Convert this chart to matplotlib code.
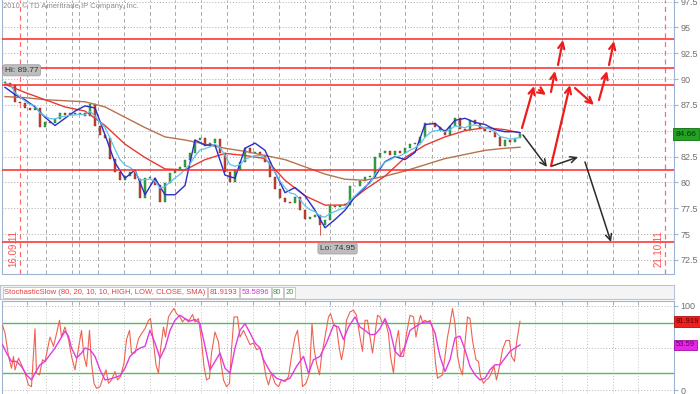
import numpy as np
import pandas as pd
import matplotlib
matplotlib.use("Agg")
import matplotlib.pyplot as plt
import matplotlib.transforms as mtrans
from matplotlib.patches import Rectangle
from matplotlib import font_manager

_names = {f.name for f in font_manager.fontManager.ttflist}
NARROW = "Liberation Sans Narrow" if "Liberation Sans Narrow" in _names else "Liberation Sans"
plt.rcParams["font.family"] = [NARROW, "DejaVu Sans"]

# ---------------- data ----------------
closes = [
    89.6, 89.4, 87.8, 87.7, 87.2, 87.0, 87.2, 85.4, 85.8, 85.7,
    86.1, 86.7, 86.5, 86.7, 86.6, 86.7, 86.4, 87.6, 85.5, 84.6,
    84.3, 82.3, 81.0, 80.2, 80.6, 81.0, 80.3, 78.5, 80.4, 80.4,
    79.7, 78.1, 79.9, 80.9, 81.2, 81.5, 82.2, 82.8, 84.1, 84.3,
    83.5, 83.8, 84.2, 82.8, 81.0, 80.0, 81.2, 82.0, 83.3, 82.8,
    82.9, 82.6, 82.0, 80.5, 79.4, 78.5, 78.1, 78.0, 78.6, 77.3,
    76.5, 76.6, 76.8, 75.9, 76.4, 77.7, 77.6, 77.8, 77.8, 79.6,
    79.6, 80.1, 80.5, 80.5, 82.5, 82.8, 83.0, 82.6, 83.0, 82.8,
    83.3, 83.7, 83.8, 84.4, 85.7, 85.7, 85.4, 85.1, 84.6, 85.5,
    86.2, 85.2, 85.1, 86.0, 85.6, 85.2, 85.0, 84.9, 84.4, 83.5,
    84.1, 83.9, 84.3, 84.66,
]
hi_idx, hi_val = 0, 89.77
lo_idx, lo_val = 63, 74.95

ma_x = list(range(0, 101, 4)) + [103]
ma_mid = [89.5, 88.7, 88.0, 87.3, 86.9, 85.5, 83.7, 82.4, 81.3, 81.2, 82.2, 82.8, 82.6,
          82.3, 80.2, 78.7, 77.8, 77.8, 79.3, 80.6, 82.4, 83.6, 84.4, 85.0, 85.3, 85.1, 84.8]
ma_long = [88.3, 88.2, 88.0, 87.9, 87.8, 87.3, 86.3, 85.3, 84.4, 84.1, 83.7, 83.3, 83.0,
           82.6, 82.2, 81.5, 80.8, 80.3, 80.2, 80.6, 81.1, 81.7, 82.3, 82.7, 83.1, 83.3, 83.4]
blue_x = list(range(0, 103, 2)) + [103]
blue_line = [89.2, 88.5, 88.0, 87.3, 86.3, 85.5, 86.2, 86.9, 87.4, 87.2,
             84.6, 81.9, 80.4, 81.2, 78.8, 80.4, 78.8, 78.8, 79.7, 84.1,
             83.6, 83.6, 80.7, 80.4, 83.3, 83.8, 83.1, 81.0, 79.0, 79.5,
             78.7, 77.3, 75.6, 76.4, 77.3, 78.6, 79.5, 80.6, 82.0, 82.5,
             82.2, 82.9, 85.6, 85.7, 84.9, 86.0, 86.2, 85.8, 85.6, 85.1,
             84.9, 84.9, 84.8]

levels = [93.88, 91.07, 89.42, 81.2, 74.23]
price_ticks = [72.5, 75, 77.5, 80, 82.5, 85, 87.5, 90, 92.5, 95, 97.5]
week_ticks = [4.3, 8.1, 13.3, 14.8, 18.5, 23.7, 28.9, 34, 39.2, 44.3, 49.5, 54.7, 59.9,
              65, 69.6, 75, 80, 85.4, 90.6, 95.6, 101, 106, 111.4, 116.4, 121.6, 126.6]
date_idx = [3, 132]
date_lbl = ["16.09.11", "21.10.11"]

# projected scenario arrows: (start bar, start price, end bar, end price)
red_arrows = [(103.4, 85.26, 105.8, 89.33), (106.8, 88.94, 108.2, 88.46),
              (109.2, 88.75, 110.0, 90.78), (110.6, 91.36, 111.6, 93.78),
              (109.2, 81.58, 113.0, 89.42), (114.0, 89.13, 117.8, 87.49),
              (118.8, 87.97, 120.4, 90.78), (120.8, 91.36, 121.8, 93.68)]
black_arrows = [(103.6, 84.58, 108.4, 81.49), (109.4, 81.58, 114.6, 82.45),
                (116.0, 81.97, 121.2, 74.23)]

k_last, d_last = 81.9193, 53.5896
k_idx = [-0.5, 0, 0.7, 1.3, 1.7, 2, 2.7, 3.3, 4, 4.7, 5.3, 6, 6.3, 6.9, 7.5, 8, 9, 9.7, 10.3, 10.9,
         11.3, 12, 12.7, 13.3, 14, 14.7, 15.3, 15.8, 16.3, 16.9, 17.3, 17.8, 18.3, 19, 19.7, 20.2,
         20.7, 21.3, 22, 22.5, 23.1, 23.8, 24.3, 24.9, 25.3, 26, 26.7, 27.3, 28, 28.7, 29.1, 29.7,
         30.2, 30.7, 31.1, 31.7, 32.1, 32.7, 33.3, 33.8, 34.3, 35, 35.5, 36, 36.7, 37.5, 38, 38.7,
         39.3, 39.8, 40.3, 40.9, 41.3, 42, 42.7, 43.1, 43.7, 44.3, 44.9, 45.3, 45.8, 46.5, 47, 47.7,
         48.3, 49, 49.7, 50.3, 51, 51.7, 52.2, 52.7, 53.3, 54, 54.7, 55.3, 56, 56.7, 57.3, 58, 58.5,
         59, 59.5, 60.2, 60.9, 61.4, 61.8, 62.3, 62.9, 63.3, 64, 64.7, 65.1, 65.7, 66.3, 66.9, 67.3,
         67.8, 68.3, 69, 69.7, 70.3, 71, 71.5, 72, 72.5, 73, 73.5, 74, 74.5, 75, 75.5, 76, 76.7,
         77.1, 77.7, 78.2, 78.7, 79.1, 79.7, 80.3, 81, 81.7, 82.2, 82.7, 83.1, 83.5, 84, 84.5, 85,
         85.5, 86.1, 86.5, 87, 87.5, 88, 88.5, 89, 89.5, 90, 90.5, 91, 91.5, 92, 92.5, 93, 93.5,
         94.2, 94.7, 95.1, 95.7, 96.2, 96.7, 97.1, 97.8, 98.3, 98.9, 99.5, 100.2, 100.9, 101.3,
         101.9, 102.3, 103]
k_val = [77, 68, 40, 26, 40, 24, 38, 30, 20, 6, 4, 73, 20, 18, 36, 34, 63, 52, 67, 83,
         63, 75, 60, 40, 24, 50, 71, 40, 28, 71, 32, 8, 2, 4, 16, 24,
         8, 12, 22, 12, 16, 32, 60, 71, 44, 44, 61, 67, 73, 83, 85, 56,
         30, 20, 48, 75, 63, 87, 93, 97, 91, 87, 81, 85, 81, 90, 81, 85,
         59, 28, 12, 14, 44, 69, 57, 36, 12, 4, 8, 48, 87, 87, 63, 71,
         63, 54, 56, 48, 50, 34, 16, 6, 20, 8, 4, 12, 10, 16, 40, 63, 71,
         44, 4, 8, 20, 79, 50, 32, 18, 40, 63, 87, 91, 79, 75, 48, 36,
         52, 83, 93, 95, 89, 63, 46, 83, 83, 63, 44, 67, 89, 87, 79, 83, 67,
         40, 20, 56, 71, 40, 40, 67, 89, 87, 63, 79, 89, 81, 83, 81, 83,
         75, 32, 14, 16, 18, 40, 63, 79, 97, 79, 40, 26, 18, 56, 87, 85, 59,
         36, 34, 16, 8, 12, 14, 18, 28, 12, 28, 48, 59, 59, 40,
         34, 56, k_last]
d_idx = [-0.5, 0.3, 1.3, 2.3, 3.3, 4.3, 5.3, 6, 7, 8, 9, 10, 11, 12, 12.7, 13.3, 14.3, 15.3, 16,
         17, 18, 19, 20, 21, 22, 23, 24, 25, 26, 27, 28, 29, 30, 31, 32, 33, 34, 35, 36, 37, 38,
         39, 40, 41, 42, 43, 44, 45, 46, 47, 48, 49, 50, 51, 51.7, 53, 54.3, 55.7, 57, 58.3, 59.7,
         60.7, 61.7, 63, 64.3, 65.7, 66.7, 67.7, 68.7, 70, 71, 72, 73, 74, 75, 76, 77, 78, 79, 80,
         81, 82, 83, 84, 85, 86, 87, 88, 89, 90, 91, 92, 93, 94, 95, 96, 97, 98, 99, 100, 101,
         102, 103]
d_val = [54, 44, 34, 34, 28, 18, 12, 20, 30, 34, 42, 50, 60, 70, 64, 50, 38, 44, 50,
         48, 40, 24, 12, 13, 15, 17, 26, 40, 46, 50, 52, 71, 56, 38, 50, 71, 83, 89, 85, 82, 84,
         79, 52, 24, 34, 44, 26, 20, 50, 71, 79, 68, 56, 50, 36, 22, 14, 11, 14, 28, 40,
         20, 36, 40, 56, 77, 75, 60, 75, 87, 75, 71, 66, 66, 73, 85, 71, 46, 40, 52,
         71, 75, 79, 81, 81, 68, 40, 22, 36, 62, 64, 48, 28, 18, 12, 14, 24, 30, 30, 38, 46,
         50, d_last]
stoch_params = "80, 20, 10, 10, HIGH, LOW, CLOSE, SMA"
stoch_levels = [80, 20]

# ---------------- figure ----------------
W, H = 700, 394
fig = plt.figure(figsize=(W / 100, H / 100), dpi=100)
fig.patch.set_facecolor("white")
renderer = fig.canvas.get_renderer()


def px_axes(x0, y0, x1, y1):
    return fig.add_axes([x0 / W, 1 - y1 / H, (x1 - x0) / W, (y1 - y0) / H])


SPINE = "#9fb4d2"
GRID_C = "#a9a9a9"
TXT = "#707070"
XLIM = (-0.6, 133.8)

# ---------- price panel ----------
ax = px_axes(2, 0, 674, 274)
ax.set_xlim(*XLIM)
ax.set_ylim(71.13, 97.65)
ax.spines["top"].set_visible(False)
for s in ["left", "right", "bottom"]:
    ax.spines[s].set_color(SPINE)
ax.yaxis.tick_right()
ax.set_yticks(price_ticks)
ax.set_yticklabels([f"{t:g}" for t in price_ticks])
ax.tick_params(axis="y", length=3, pad=1.5, labelsize=6.5, colors=TXT, color=SPINE)
ax.set_xticks(week_ticks)
ax.tick_params(axis="x", direction="in", length=3, labelbottom=False, color=SPINE)
for t in price_ticks:
    ax.axhline(t, color=GRID_C, ls=(0, (1, 2)), lw=0.7, zorder=0)
for w in week_ticks:
    ax.axvline(w, color=GRID_C, ls=(0, (4, 3)), lw=0.7, zorder=0)

idx = np.arange(len(closes))
c = np.array(closes)
o = np.array([closes[0]] + closes[:-1])
up = c >= o
body = np.maximum(np.abs(c - o), 0.08)
ax.bar(idx, body, bottom=np.minimum(o, c), width=0.5,
       color=np.where(up, "#35a845", "#c8432e"),
       edgecolor=np.where(up, "#1d6e2a", "#7d2a1c"), linewidth=0.3, zorder=2)
ax.vlines([hi_idx], closes[hi_idx], hi_val, color="#555555", lw=0.6, zorder=2)
ax.vlines([lo_idx], lo_val, min(closes[lo_idx], closes[lo_idx - 1]), color="#c8432e", lw=0.6, zorder=2)

ax.plot(ma_x, ma_long, color="#b8724c", lw=1, zorder=3)
ax.plot(ma_x, ma_mid, color="#e63a30", lw=1, zorder=3)
ax.plot(blue_x, blue_line, color="#2c2cc8", lw=1, zorder=3)
ax.plot(idx, pd.Series(closes).ewm(span=5).mean(), color="#5cc3ec", lw=0.9, zorder=3)

for lv in levels:
    ax.axhline(lv, color="#ff2626", lw=1.1, zorder=4)

for d, lbl in zip(date_idx, date_lbl):
    ax.axvline(d, color="#ff6b6b", ls=(0, (4, 3)), lw=0.9, zorder=1)
    ax.text(d - 0.3, 0.025, lbl, rotation=90, color="#ff5050", fontsize=7,
            family="Liberation Sans", ha="right", va="bottom",
            transform=mtrans.blended_transform_factory(ax.transData, ax.transAxes))

for x0, y0, x1, y1 in red_arrows:
    ax.annotate("", xy=(x1, y1), xytext=(x0, y0), zorder=6,
                arrowprops=dict(arrowstyle="->,head_length=0.45,head_width=0.22",
                                color="#f01c1c", lw=1.6, shrinkA=0, shrinkB=0))
for x0, y0, x1, y1 in black_arrows:
    ax.annotate("", xy=(x1, y1), xytext=(x0, y0), zorder=6,
                arrowprops=dict(arrowstyle="->,head_length=0.45,head_width=0.22",
                                color="#2a2a2a", lw=1.1, shrinkA=0, shrinkB=0))

lab_box = dict(boxstyle="round,pad=0.25", fc="#bdbdbd", ec="#9c9c9c", lw=0.5)
ax.annotate(f"Hi: {hi_val:.2f}", xy=(hi_idx, hi_val), xytext=(0, 8), textcoords="offset points",
            ha="left", va="center", fontsize=6, color="#333333", bbox=lab_box, zorder=7)
ax.annotate(f"Lo: {lo_val:.2f}", xy=(lo_idx, lo_val), xytext=(0, -10), textcoords="offset points",
            ha="left", va="center", fontsize=6, color="#333333", bbox=lab_box, zorder=7)

yb = mtrans.blended_transform_factory(ax.transAxes, ax.transData)
ax.text(1.002, closes[-1], f"{closes[-1]:.2f}", transform=yb, ha="left", va="center",
        fontsize=6, color="#10300f", clip_on=False, zorder=8,
        bbox=dict(boxstyle="square,pad=0.3", fc="#22a322", ec="#127012", lw=0.6))

fig.text(3 / W, 1 - 6 / H, "2010 \u00a9 TD Ameritrade IP Company, Inc.",
         color="#8c8c8c", ha="left", va="center", fontsize=5.5)

# ---------- header strip ----------
hx = px_axes(0, 285, 674, 299)
hx.set_xlim(0, 674)
hx.set_ylim(14, 0)
hx.set_facecolor("#f4f4f4")
hx.set_xticks([])
hx.set_yticks([])
for s in hx.spines.values():
    s.set_color("#b9c5d6")
    s.set_linewidth(0.8)
segments = [(f"StochasticSlow ({stoch_params})", "#e04040"),
            (f"{k_last:.4f}", "#e04040"),
            (f"{d_last:.4f}", "#d633d6"),
            (f"{stoch_levels[0]}", "#3c9a3c"),
            (f"{stoch_levels[1]}", "#3c9a3c")]
cursor = 3
for txt, col in segments:
    t = hx.text(cursor + 1.5, 7.2, txt, color=col, ha="left", va="center", fontsize=5.5, zorder=3)
    wpx = t.get_window_extent(renderer).width
    hx.add_patch(Rectangle((cursor, 1.5), wpx + 3, 11, fc="white", ec="#c2c2c2", lw=0.6, zorder=2))
    cursor += wpx + 4

# ---------- stochastic panel ----------
sx = px_axes(2, 301, 674, 394)
sx.set_xlim(*XLIM)
sx.set_ylim(-4.76, 105.95)
sx.spines["bottom"].set_visible(False)
for s in ["left", "right", "top"]:
    sx.spines[s].set_color(SPINE)
sx.yaxis.tick_right()
sx.set_yticks([0, 100])
sx.set_yticklabels(["0", "100"])
sx.tick_params(axis="y", length=3, pad=1.5, labelsize=6.5, colors=TXT, color=SPINE)
sx.set_xticks(week_ticks)
sx.tick_params(axis="x", direction="in", length=3, top=True, bottom=False,
               labelbottom=False, color=SPINE)
for t in [0, 50, 100]:
    sx.axhline(t, color="#b5b5b5", ls=(0, (1, 2)), lw=0.7, zorder=0)
for w in week_ticks:
    sx.axvline(w, color="#c4c4c4", ls=(0, (1, 2)), lw=0.7, zorder=0)
for lv in stoch_levels:
    sx.axhline(lv, color="#5cb85c", lw=1.0, zorder=1)
sx.plot(k_idx, k_val, color="#f0624f", lw=0.8, zorder=3)
sx.plot(d_idx, d_val, color="#e23be0", lw=1.0, zorder=4)

sb = mtrans.blended_transform_factory(sx.transAxes, sx.transData)
sx.text(1.003, k_last, f"{k_last:.3f}", transform=sb, ha="left", va="center", fontsize=5.5,
        color="#5a0000", clip_on=False, zorder=8,
        bbox=dict(boxstyle="square,pad=0.25", fc="#ee2020", ec="#b01010", lw=0.6))
sx.text(1.003, d_last, f"{d_last:.2f}", transform=sb, ha="left", va="center", fontsize=5.5,
        color="#5a005a", clip_on=False, zorder=8,
        bbox=dict(boxstyle="square,pad=0.25", fc="#e628e6", ec="#a010a0", lw=0.6))

fig.savefig("out.png", dpi=100, facecolor="white")
